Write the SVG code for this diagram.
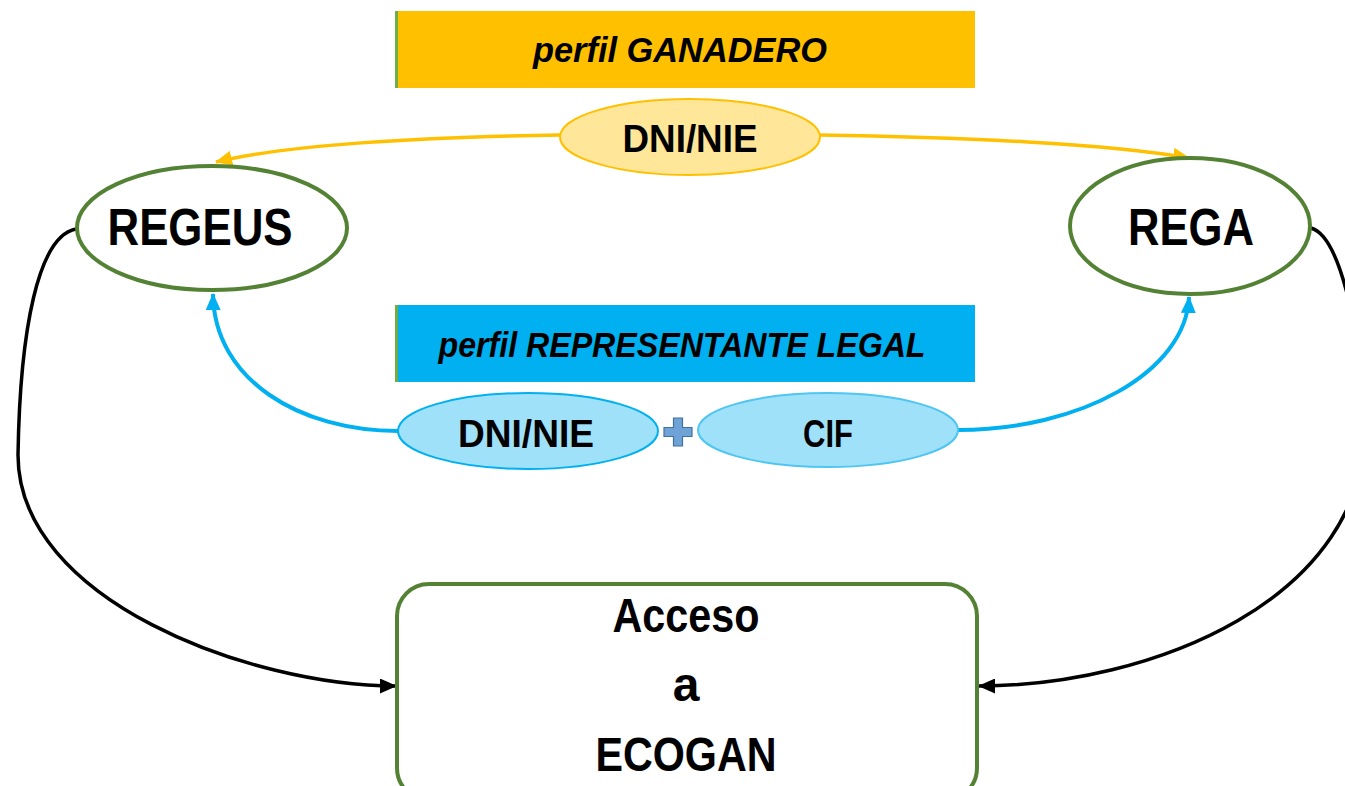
<svg xmlns="http://www.w3.org/2000/svg" width="1345" height="786" viewBox="0 0 1345 786">
<defs>
<style>
.t{font-family:"Liberation Sans",Arial,sans-serif;font-weight:bold;fill:#000;text-anchor:middle}
.ti{font-style:italic}
.green{fill:#fff;stroke:#548235;stroke-width:4}
.conn{fill:none}
</style>
<marker id="aO" markerUnits="userSpaceOnUse" markerWidth="17" markerHeight="15" refX="16" refY="7.5" orient="auto"><path d="M0,0 L17,7.5 L0,15 z" fill="#FFC000"/></marker>
<marker id="aB" markerUnits="userSpaceOnUse" markerWidth="17" markerHeight="15" refX="16" refY="7.5" orient="auto"><path d="M0,0 L17,7.5 L0,15 z" fill="#00B0F0"/></marker>
<marker id="aK" markerUnits="userSpaceOnUse" markerWidth="17" markerHeight="15" refX="16" refY="7.5" orient="auto"><path d="M0,0 L17,7.5 L0,15 z" fill="#000"/></marker>
</defs>
<rect width="1345" height="786" fill="#fff"/>

<g id="connectors" class="conn">
<path d="M560,135 C 420,137 285,145 216,162" stroke="#FFC000" stroke-width="3.5" marker-end="url(#aO)"/>
<path d="M820,135 C 960,137 1110,144 1189,158" stroke="#FFC000" stroke-width="3.5" marker-end="url(#aO)"/>
<path d="M398,431 C 300,431 214,380 213,294" stroke="#00B0F0" stroke-width="4" marker-end="url(#aB)"/>
<path d="M958,430 C 1080,430 1186,372 1189,297" stroke="#00B0F0" stroke-width="4" marker-end="url(#aB)"/>
<path d="M76,229 C 38,236 20,330 18,455 C 18,600 250,686 396,686" stroke="#000" stroke-width="3.5" marker-end="url(#aK)"/>
<path d="M1311,228 C 1340,236 1360,330 1365,420 C 1370,600 1150,686 979,686" stroke="#000" stroke-width="3.5" marker-end="url(#aK)"/>
</g>

<g id="banner-ganadero">
<rect x="395" y="11" width="580" height="77" fill="#FFC000"/>
<rect x="395" y="11" width="3" height="77" fill="#70AD47"/>
<text class="t ti" x="680" y="62" font-size="35" textLength="294" lengthAdjust="spacingAndGlyphs">perfil GANADERO</text>
</g>

<g id="dni-ganadero">
<ellipse cx="690" cy="137" rx="130" ry="38" fill="#FFE699" stroke="#FFC000" stroke-width="2"/>
<text class="t" x="690" y="152" font-size="38" textLength="135" lengthAdjust="spacingAndGlyphs">DNI/NIE</text>
</g>

<g id="regeus">
<ellipse class="green" cx="212" cy="228" rx="135" ry="62"/>
<text class="t" x="200" y="245" font-size="52" textLength="185" lengthAdjust="spacingAndGlyphs">REGEUS</text>
</g>

<g id="rega">
<ellipse class="green" cx="1190" cy="226" rx="120" ry="68"/>
<text class="t" x="1191" y="245" font-size="52" textLength="126" lengthAdjust="spacingAndGlyphs">REGA</text>
</g>

<g id="banner-representante">
<rect x="395" y="305" width="580" height="77" fill="#00B0F0"/>
<rect x="395" y="305" width="3" height="77" fill="#70AD47"/>
<text class="t ti" x="682" y="357" font-size="35" textLength="487" lengthAdjust="spacingAndGlyphs">perfil REPRESENTANTE LEGAL</text>
</g>

<g id="dni-representante">
<ellipse cx="528" cy="431" rx="130" ry="38" fill="#A0E1FA" stroke="#00B0F0" stroke-width="2"/>
<text class="t" x="526" y="447" font-size="38" textLength="136" lengthAdjust="spacingAndGlyphs">DNI/NIE</text>
</g>

<g id="plus">
<path d="M673.5,418 h9 v9.5 h9.5 v9 h-9.5 v9.5 h-9 v-9.5 h-9.5 v-9 h9.5 z" fill="#6FA3D8" stroke="#41719C" stroke-width="1.2"/>
</g>

<g id="cif">
<ellipse cx="828" cy="430" rx="130" ry="37" fill="#A0E1FA" stroke="#4FC6F2" stroke-width="2"/>
<text class="t" x="828" y="447" font-size="38" textLength="50" lengthAdjust="spacingAndGlyphs">CIF</text>
</g>

<g id="ecogan">
<rect class="green" x="397" y="584" width="580" height="216" rx="32" stroke-width="4.5"/>
<text class="t" x="686" y="632" font-size="48" textLength="147" lengthAdjust="spacingAndGlyphs">Acceso</text>
<text class="t" x="686" y="701" font-size="48">a</text>
<text class="t" x="686" y="771" font-size="48" textLength="181" lengthAdjust="spacingAndGlyphs">ECOGAN</text>
</g>
</svg>
